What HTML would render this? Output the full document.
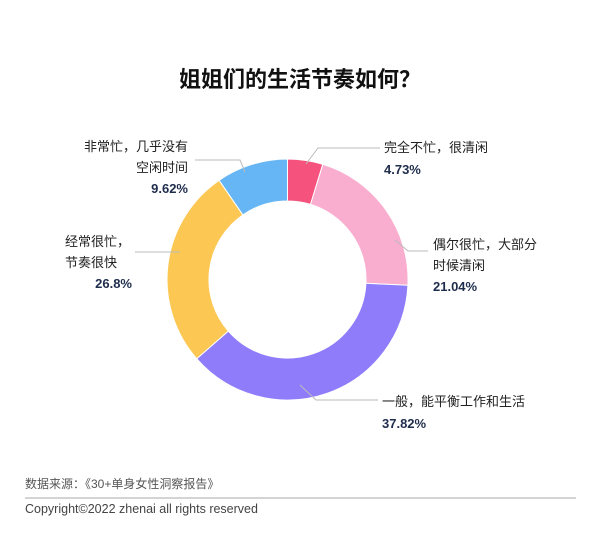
<!DOCTYPE html>
<html><head><meta charset="utf-8"><style>
body{margin:0;background:#fff;width:603px;height:535px;overflow:hidden;font-family:"Liberation Sans","Noto Sans CJK SC",sans-serif;}
</style></head><body>
<svg width="603" height="535" xmlns="http://www.w3.org/2000/svg" font-family="Liberation Sans, Noto Sans CJK SC, sans-serif">
<text x="300" y="87" text-anchor="middle" font-size="22" font-weight="bold" fill="#111">姐姐们的生活节奏如何？</text>
<g stroke="#fff" stroke-width="1">
<path d="M287.5,159 A120.5,120.5 0 0 1 322.8,164.3 L310.5,204.4 A78.5,78.5 0 0 0 287.5,201 Z" fill="#f5527d"/>
<path d="M322.8,164.3 A120.5,120.5 0 0 1 407.9,285.3 L365.9,283.3 A78.5,78.5 0 0 0 310.5,204.4 Z" fill="#f9aed0"/>
<path d="M407.9,285.3 A120.5,120.5 0 0 1 196.7,358.7 L228.3,331.1 A78.5,78.5 0 0 0 365.9,283.3 Z" fill="#8f7cfb"/>
<path d="M196.7,358.7 A120.5,120.5 0 0 1 219.1,180.3 L242.9,214.9 A78.5,78.5 0 0 0 228.3,331.1 Z" fill="#fcc752"/>
<path d="M219.1,180.3 A120.5,120.5 0 0 1 287.5,159 L287.5,201 A78.5,78.5 0 0 0 242.9,214.9 Z" fill="#66b6f5"/>
</g>
<g fill="none" stroke="#bbb" stroke-width="1">
<path d="M306,164 L318,148 L380,148"/>
<path d="M395,240 L408,251 L428,251"/>
<path d="M300,385 L316,400 L378,400"/>
<path d="M180,252 L165,252 L135,252"/>
<path d="M245,172 L240,160 L195,160"/>
</g>
<g font-size="13" fill="#222">
<text x="384" y="152">完全不忙，很清闲</text>
<text x="384" y="174" font-weight="bold" fill="#1f2d4d">4.73%</text>
<text x="433" y="249">偶尔很忙，大部分</text>
<text x="433" y="270">时候清闲</text>
<text x="433" y="291" font-weight="bold" fill="#1f2d4d">21.04%</text>
<text x="382" y="406">一般，能平衡工作和生活</text>
<text x="382" y="428" font-weight="bold" fill="#1f2d4d">37.82%</text>
<text x="65" y="246">经常很忙，</text>
<text x="65" y="267">节奏很快</text>
<text x="132" y="288" text-anchor="end" font-weight="bold" fill="#1f2d4d">26.8%</text>
<text x="188" y="151" text-anchor="end">非常忙，几乎没有</text>
<text x="188" y="172" text-anchor="end">空闲时间</text>
<text x="188" y="193" text-anchor="end" font-weight="bold" fill="#1f2d4d">9.62%</text>
</g>
<text x="25" y="488" font-size="12" fill="#555">数据来源：《30+单身女性洞察报告》</text>
<line x1="25" y1="498" x2="576" y2="498" stroke="#aaa" stroke-width="1"/>
<text x="25" y="513" font-size="12.5" fill="#444">Copyright©2022  zhenai  all rights reserved</text>
</svg>
</body></html>
